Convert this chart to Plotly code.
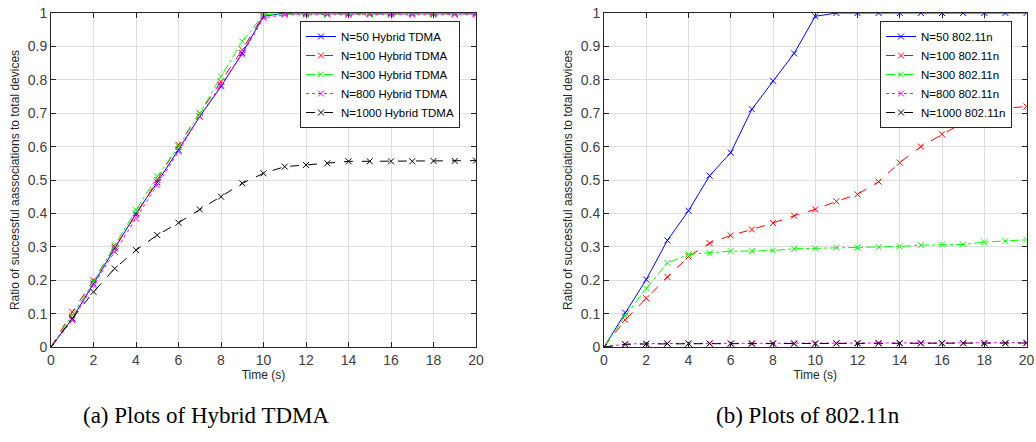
import plotly.graph_objects as go

time_s = list(range(21))

# (a) Hybrid TDMA
tdma_n50 = [0, 0.085, 0.19, 0.295, 0.40, 0.493, 0.59, 0.69, 0.78, 0.88, 0.99, 1, 1, 1, 1, 1, 1, 1, 1, 1, 1]
tdma_n100 = [0, 0.105, 0.20, 0.30, 0.395, 0.50, 0.605, 0.70, 0.795, 0.89, 0.995, 0.998, 0.998, 0.998, 0.998, 0.998, 0.998, 0.998, 0.998, 0.998, 0.998]
tdma_n300 = [0, 0.095, 0.195, 0.305, 0.41, 0.51, 0.60, 0.70, 0.81, 0.915, 0.995, 0.997, 0.997, 0.997, 0.997, 0.997, 0.997, 0.997, 0.997, 0.997, 0.997]
tdma_n800 = [0, 0.08, 0.185, 0.285, 0.385, 0.485, 0.585, 0.69, 0.785, 0.875, 0.985, 0.995, 0.995, 0.995, 0.995, 0.995, 0.995, 0.995, 0.995, 0.995, 0.995]
tdma_n1000 = [0, 0.085, 0.165, 0.235, 0.29, 0.335, 0.372, 0.412, 0.45, 0.49, 0.52, 0.54, 0.545, 0.55, 0.556, 0.556, 0.556, 0.556, 0.557, 0.557, 0.558]

# (b) 802.11n
wifi_n50 = [0, 0.103, 0.202, 0.319, 0.408, 0.513, 0.582, 0.712, 0.797, 0.879, 0.99, 1, 1, 1, 1, 1, 1, 1, 1, 1, 1]
wifi_n100 = [0, 0.081, 0.146, 0.21, 0.271, 0.311, 0.334, 0.352, 0.371, 0.393, 0.412, 0.436, 0.457, 0.495, 0.552, 0.60, 0.637, 0.672, 0.70, 0.715, 0.72]
wifi_n300 = [0, 0.093, 0.175, 0.252, 0.277, 0.281, 0.287, 0.287, 0.289, 0.294, 0.295, 0.298, 0.298, 0.299, 0.301, 0.305, 0.307, 0.307, 0.314, 0.317, 0.321]
wifi_n800 = [0, 0.009, 0.01, 0.011, 0.011, 0.011, 0.011, 0.011, 0.011, 0.011, 0.011, 0.011, 0.012, 0.012, 0.012, 0.012, 0.012, 0.012, 0.012, 0.012, 0.013]
wifi_n1000 = [0, 0.008, 0.009, 0.01, 0.01, 0.01, 0.01, 0.01, 0.01, 0.01, 0.01, 0.011, 0.011, 0.011, 0.011, 0.011, 0.011, 0.011, 0.011, 0.011, 0.012]

tdma_names = ["N=50 Hybrid TDMA", "N=100 Hybrid TDMA", "N=300 Hybrid TDMA", "N=800 Hybrid TDMA", "N=1000 Hybrid TDMA"]
wifi_names = ["N=50 802.11n", "N=100 802.11n", "N=300 802.11n", "N=800 802.11n", "N=1000 802.11n"]
colors = ["#0000ff", "#ff0000", "#00ff00", "#ff00ff", "#000000"]
dashes = ["solid", "dash", "dashdot", "dot", "dash"]

y_title = "Ratio of successful aassociations to total devices"
x_title = "Time (s)"
captions = ["(a) Plots of Hybrid TDMA", "(b) Plots of 802.11n"]

FONT = "Liberation Sans, Arial, sans-serif"

fig = go.Figure()

for series, name, c, d in zip([tdma_n50, tdma_n100, tdma_n300, tdma_n800, tdma_n1000], tdma_names, colors, dashes):
    fig.add_trace(go.Scatter(x=time_s, y=series, name=name, mode="lines+markers",
                             line=dict(color=c, width=1, dash=d),
                             marker=dict(symbol="x-thin-open", size=6, color=c, line=dict(width=1, color=c)),
                             xaxis="x", yaxis="y", legend="legend"))

for series, name, c, d in zip([wifi_n50, wifi_n100, wifi_n300, wifi_n800, wifi_n1000], wifi_names, colors, dashes):
    fig.add_trace(go.Scatter(x=time_s, y=series, name=name, mode="lines+markers",
                             line=dict(color=c, width=1, dash=d),
                             marker=dict(symbol="x-thin-open", size=6, color=c, line=dict(width=1, color=c)),
                             xaxis="x2", yaxis="y2", legend="legend2"))

H = 442
W = 1036
ytop = 1 - 13 / H
ybot = 1 - 347 / H

axis_common = dict(showline=True, linecolor="#262626", linewidth=1, mirror="allticks",
                   ticks="inside", ticklen=5, tickcolor="#262626",
                   showgrid=True, gridcolor="#dedede", gridwidth=1, zeroline=False,
                   ticklabeloverflow="allow",
                   tickfont=dict(family=FONT, size=14, color="#404040"), automargin=False)

xa = dict(axis_common, range=[0, 20], tickmode="array", tickvals=list(range(0, 21, 2)),
          title=dict(text=x_title, font=dict(family=FONT, size=12, color="#262626"), standoff=3))
ya = dict(axis_common, range=[0, 1], tickmode="array", tickvals=[i / 10 for i in range(11)],
          ticktext=["0", "0.1", "0.2", "0.3", "0.4", "0.5", "0.6", "0.7", "0.8", "0.9", "1"],
          title=dict(text=y_title, font=dict(family=FONT, size=12, color="#262626"), standoff=5))

legend_common = dict(bgcolor="white", bordercolor="#262626", borderwidth=1,
                     font=dict(family=FONT, size=11.5, color="#000000"),
                     xanchor="left", yanchor="top", tracegroupgap=0, itemwidth=30)

fig.update_layout(
    width=W, height=H,
    margin=dict(l=0, r=0, t=0, b=0),
    paper_bgcolor="white", plot_bgcolor="white",
    xaxis=dict(xa, domain=[51 / W, 476 / W], anchor="y"),
    yaxis=dict(ya, domain=[ybot, ytop], anchor="x"),
    xaxis2=dict(xa, domain=[604 / W, 1026.5 / W], anchor="y2"),
    yaxis2=dict(ya, domain=[ybot, ytop], anchor="x2"),
    legend=dict(legend_common, x=300 / W, y=1 - 21 / H),
    legend2=dict(legend_common, x=880 / W, y=1 - 21 / H),
    showlegend=True,
)

for cap, cx in zip(captions, [206, 808]):
    fig.add_annotation(text=cap, x=cx / W, y=1 - 415 / H, xref="paper", yref="paper",
                       showarrow=False, xanchor="center", yanchor="middle",
                       font=dict(family="Liberation Serif, serif", size=23, color="#000000"))

fig.write_html("out.html", config={"displayModeBar": False},
               post_script="document.body.style.margin='0';document.body.style.overflow='hidden';")
